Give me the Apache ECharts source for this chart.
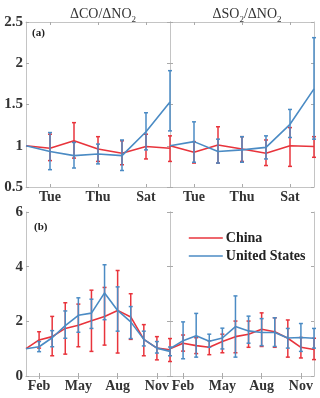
<!DOCTYPE html>
<html>
<head>
<meta charset="utf-8">
<script src="https://cdn.jsdelivr.net/npm/echarts@6/dist/echarts.min.js"></script>
<style>
  html, body { margin: 0; padding: 0; background: #fff; }
  #main { width: 320px; height: 398px; }
</style>
</head>
<body>
<div id="main"></div>
<script>
var chartDom = document.getElementById('main');
var myChart = echarts.init(chartDom);
var option;

const redColor = '#e8343c';
const blueColor = '#4b8bc4';
const frameColor = '#c4c4c4';
const fontFam = 'Liberation Serif';

const week = ['Mon', 'Tue', 'Wed', 'Thu', 'Fri', 'Sat', 'Sun'];
const months = ['Jan', 'Feb', 'Mar', 'Apr', 'May', 'Jun', 'Jul', 'Aug', 'Sep', 'Oct', 'Nov', 'Dec'];

// (a) weekly, dCO/dNO2
const coWeekChina   = [1.00, 0.97, 1.06, 0.96, 0.91, 0.99, 0.97];
const coWeekChinaLo = [null, 0.82, 0.85, 0.81, 0.77, 0.84, 0.81];
const coWeekChinaHi = [null, 1.14, 1.28, 1.11, 1.06, 1.14, 1.12];
const coWeekUS      = [1.00, 0.93, 0.88, 0.90, 0.88, 1.17, 1.53];
const coWeekUSLo    = [null, 0.71, 0.73, 0.78, 0.70, 0.95, 1.18];
const coWeekUSHi    = [null, 1.16, 1.04, 1.02, 1.07, 1.40, 1.91];

// (a) weekly, dSO2/dNO2
const so2WeekChina   = [1.00, 0.92, 1.01, 0.96, 0.91, 1.00, 0.99];
const so2WeekChinaLo = [null, 0.79, 0.79, 0.81, 0.76, 0.75, 0.86];
const so2WeekChinaHi = [null, 1.05, 1.23, 1.11, 1.07, 1.22, 1.11];
const so2WeekUS      = [1.00, 1.05, 0.93, 0.95, 0.98, 1.26, 1.69];
const so2WeekUSLo    = [null, 0.80, 0.79, 0.80, 0.84, 1.10, 1.08];
const so2WeekUSHi    = [null, 1.29, 1.08, 1.11, 1.12, 1.44, 2.31];

// (b) monthly, dCO/dNO2
const coMonChina   = [1.00, 1.32, 1.44, 1.74, 1.86, 2.02, 2.18, 2.40, 2.16, 1.34, 1.02, 0.96];
const coMonChinaLo = [null, 1.02, 0.74, 0.80, 1.07, 0.90, 1.13, 0.84, 1.34, 0.74, 0.59, 0.53];
const coMonChinaHi = [null, 1.62, 2.18, 2.68, 2.63, 3.14, 3.24, 3.86, 3.01, 1.88, 1.44, 1.37];
const coMonUS      = [1.00, 1.07, 1.40, 1.84, 2.22, 2.30, 3.04, 2.40, 1.98, 1.34, 1.02, 0.90];
const coMonUSLo    = [null, 0.89, 1.07, 1.38, 1.60, 1.74, 2.06, 1.64, 1.37, 1.10, 0.84, 0.74];
const coMonUSHi    = [null, 1.26, 1.66, 2.38, 2.86, 2.81, 4.07, 3.26, 2.54, 1.64, 1.26, 1.06];

// (b) monthly, dSO2/dNO2
const so2MonChina   = [1.00, 1.20, 1.11, 1.05, 1.26, 1.44, 1.53, 1.71, 1.62, 1.38, 1.05, 0.97];
const so2MonChinaLo = [null, 0.91, 0.82, 0.78, 0.85, 0.85, 1.05, 1.08, 1.05, 0.69, 0.66, 0.60];
const so2MonChinaHi = [null, 1.50, 1.40, 1.29, 1.53, 2.01, 2.01, 2.31, 2.13, 2.05, 1.41, 1.38];
const so2MonUS      = [1.00, 1.29, 1.47, 1.27, 1.39, 1.81, 1.65, 1.59, 1.59, 1.39, 1.41, 1.38];
const so2MonUSLo    = [null, 0.63, 0.69, 1.05, 0.99, 0.69, 1.20, 1.11, 1.08, 1.02, 0.90, 1.02];
const so2MonUSHi    = [null, 1.98, 2.29, 1.53, 1.75, 2.93, 2.19, 2.10, 2.13, 1.74, 1.92, 1.74];

const grids = [
  { left: 26, top: 22, width: 144, height: 165 },
  { left: 170, top: 22, width: 144, height: 165 },
  { left: 26, top: 212, width: 144, height: 164 },
  { left: 170, top: 212, width: 144, height: 164 }
];

const labelStyle = {
  fontFamily: fontFam,
  fontWeight: 'bold',
  color: '#333'
};

function tickEvery(n) {
  return function (i) { return i % n === 1; };
}

function makeXAxes(gridIndex, cats, every) {
  const pick = tickEvery(every);
  const base = {
    type: 'category',
    gridIndex: gridIndex,
    data: cats,
    boundaryGap: false,
    axisLine: { show: true, lineStyle: { color: frameColor, width: 1 } },
    axisTick: { show: true, inside: true, length: 3, interval: pick, lineStyle: { color: '#aaa' } },
    splitLine: { show: false }
  };
  return [
    Object.assign({}, base, {
      position: 'bottom',
      axisLabel: Object.assign({ show: true, interval: pick, fontSize: 14, margin: 3 }, labelStyle)
    }),
    Object.assign({}, base, {
      position: 'top',
      axisLabel: { show: false }
    })
  ];
}

function makeYAxes(gridIndex, min, max, step, showLabels) {
  const base = {
    type: 'value',
    gridIndex: gridIndex,
    min: min,
    max: max,
    interval: step,
    axisLine: { show: true, lineStyle: { color: frameColor, width: 1 } },
    axisTick: { show: true, inside: true, length: 3, lineStyle: { color: '#aaa' } },
    splitLine: { show: false }
  };
  return [
    Object.assign({}, base, {
      position: 'left',
      axisLabel: Object.assign({ show: showLabels, fontSize: 15, margin: 3 }, labelStyle)
    }),
    Object.assign({}, base, {
      position: 'right',
      axisLabel: { show: false }
    })
  ];
}

function errData(lo, hi) {
  let out = [];
  for (let i = 0; i < lo.length; i++) {
    if (lo[i] != null) out.push([i, lo[i], hi[i]]);
  }
  return out;
}

function errSeries(name, gridIndex, lo, hi, color) {
  return {
    name: name,
    type: 'custom',
    xAxisIndex: gridIndex * 2,
    yAxisIndex: gridIndex * 2,
    data: errData(lo, hi),
    encode: { x: 0, y: [1, 2] },
    z: color === blueColor ? 4 : 2,
    itemStyle: { color: color },
    renderItem: function (params, api) {
      const x = api.value(0);
      const p1 = api.coord([x, api.value(1)]);
      const p2 = api.coord([x, api.value(2)]);
      const c = 2;
      const st = { stroke: color, lineWidth: 1.5 };
      return {
        type: 'group',
        children: [
          { type: 'line', shape: { x1: p1[0], y1: p1[1], x2: p2[0], y2: p2[1] }, style: st },
          { type: 'line', shape: { x1: p1[0] - c, y1: p1[1], x2: p1[0] + c, y2: p1[1] }, style: st },
          { type: 'line', shape: { x1: p2[0] - c, y1: p2[1], x2: p2[0] + c, y2: p2[1] }, style: st }
        ]
      };
    }
  };
}

function lineSeries(name, gridIndex, values, color) {
  return {
    name: name,
    type: 'line',
    xAxisIndex: gridIndex * 2,
    yAxisIndex: gridIndex * 2,
    data: values,
    symbol: 'none',
    z: color === blueColor ? 5 : 3,
    lineStyle: { color: color, width: 1.6 },
    itemStyle: { color: color }
  };
}

// line series come first so the legend takes its line icon from them
function panelLines(gridIndex, cn, us) {
  return [
    lineSeries('China', gridIndex, cn, redColor),
    lineSeries('United States', gridIndex, us, blueColor)
  ];
}

function panelErrors(gridIndex, cnLo, cnHi, usLo, usHi) {
  return [
    errSeries('China', gridIndex, cnLo, cnHi, redColor),
    errSeries('United States', gridIndex, usLo, usHi, blueColor)
  ];
}

const titleRich = {
  t: { fontFamily: fontFam, fontSize: 14, fontWeight: 'normal', color: '#333' },
  s: { fontFamily: fontFam, fontSize: 9, fontWeight: 'normal', color: '#333', verticalAlign: 'bottom', padding: [0, 0, -3, 0] }
};

option = {
  animation: false,
  backgroundColor: '#fff',
  title: [
    {
      text: '{t|ΔCO/ΔNO}{s|2}',
      left: 98,
      top: 2,
      textAlign: 'center',
      textStyle: { fontWeight: 'normal', rich: titleRich }
    },
    {
      text: '{t|ΔSO}{s|2}{t|/ΔNO}{s|2}',
      left: 242,
      top: 2,
      textAlign: 'center',
      textStyle: { fontWeight: 'normal', rich: titleRich }
    }
  ],
  graphic: [
    { type: 'text', left: 32, top: 28, style: { text: '(a)', font: 'bold 11px "Liberation Serif"', fill: '#222' } },
    { type: 'text', left: 34, top: 222, style: { text: '(b)', font: 'bold 11px "Liberation Serif"', fill: '#222' } }
  ],
  legend: {
    data: ['China', 'United States'],
    orient: 'vertical',
    left: 183,
    top: 226,
    itemWidth: 34,
    itemHeight: 14,
    itemGap: 4,
    itemStyle: { opacity: 0 },
    lineStyle: { width: 1.6 },
    textStyle: { fontFamily: fontFam, fontWeight: 'bold', fontSize: 14, color: '#222', padding: [0, 0, 0, -2] }
  },
  grid: grids,
  xAxis: []
    .concat(makeXAxes(0, week, 2))
    .concat(makeXAxes(1, week, 2))
    .concat(makeXAxes(2, months, 3))
    .concat(makeXAxes(3, months, 3)),
  yAxis: []
    .concat(makeYAxes(0, 0.5, 2.5, 0.5, true))
    .concat(makeYAxes(1, 0.5, 2.5, 0.5, false))
    .concat(makeYAxes(2, 0, 6, 2, true))
    .concat(makeYAxes(3, 0, 6, 2, false)),
  series: []
    .concat(panelLines(0, coWeekChina, coWeekUS))
    .concat(panelLines(1, so2WeekChina, so2WeekUS))
    .concat(panelLines(2, coMonChina, coMonUS))
    .concat(panelLines(3, so2MonChina, so2MonUS))
    .concat(panelErrors(0, coWeekChinaLo, coWeekChinaHi, coWeekUSLo, coWeekUSHi))
    .concat(panelErrors(1, so2WeekChinaLo, so2WeekChinaHi, so2WeekUSLo, so2WeekUSHi))
    .concat(panelErrors(2, coMonChinaLo, coMonChinaHi, coMonUSLo, coMonUSHi))
    .concat(panelErrors(3, so2MonChinaLo, so2MonChinaHi, so2MonUSLo, so2MonUSHi))
};

option && myChart.setOption(option);
</script>
</body>
</html>
